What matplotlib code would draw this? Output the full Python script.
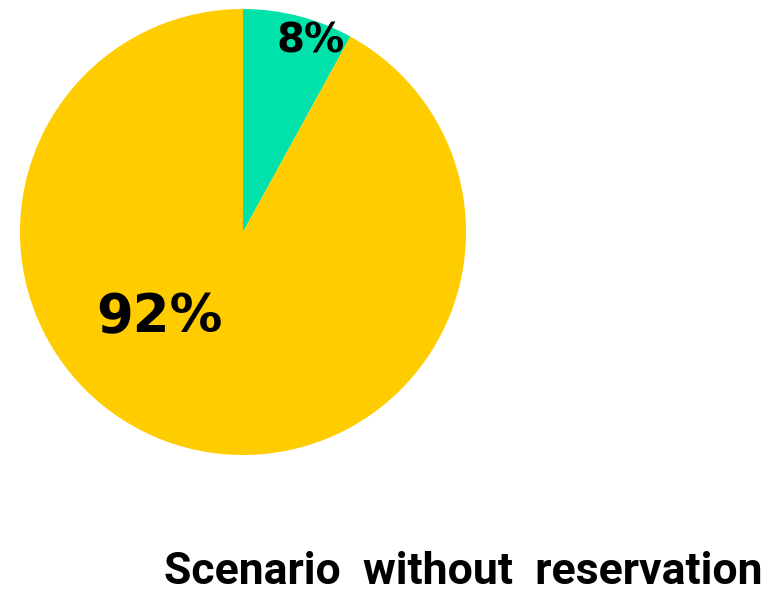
import matplotlib
matplotlib.use("Agg")
import matplotlib.pyplot as plt

labels = ["8%", "92%"]
shares = [8, 92]
colors = ["#00E2A9", "#FFCC00"]
title = "Scenario  without  reservation"

# where the data labels sit (axes data units, pie radius = 1)
label_pos = [(0.305, 0.855), (-0.375, -0.383)]
label_size = [29, 38]

fig = plt.figure(figsize=(7.82, 5.93), dpi=100)
ax = fig.add_axes([(243 - 223) / 782, (593 - 232 - 223) / 593, 446 / 782, 446 / 593])
ax.pie(shares, colors=colors, startangle=90, counterclock=False, radius=1,
       wedgeprops=dict(linewidth=0))
ax.set_xlim(-1, 1)
ax.set_ylim(-1, 1)
ax.set_aspect("equal")
ax.axis("off")

for lab, (x, y), s in zip(labels, label_pos, label_size):
    ax.text(x, y, lab, ha="center", va="center", fontsize=s,
            fontweight="bold", family="DejaVu Sans", color="black")

t = fig.text(463 / 782, 1 - 572 / 593, title, ha="center", va="center",
             fontsize=30, fontweight="bold", family="Roboto")
# shrink the title so it spans about 600 px like the reference
r = fig.canvas.get_renderer()
w = t.get_window_extent(renderer=r).width
t.set_fontsize(30 * 598 / w)

fig.savefig("out.png", dpi=100)
